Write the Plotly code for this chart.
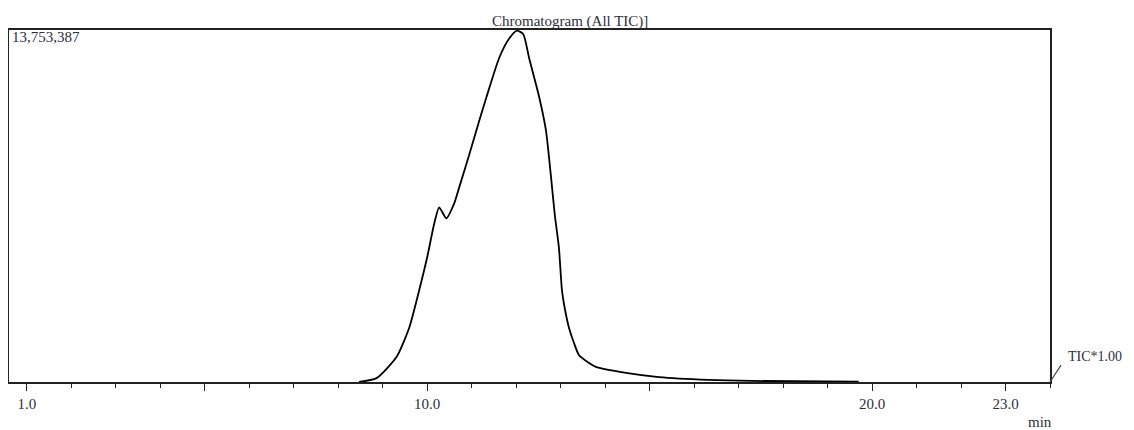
import plotly.graph_objects as go

# Retention time (min) and total ion current
time_min = [8.47, 8.86, 9.31, 9.60, 9.82, 10.00, 10.16, 10.27, 10.43, 10.61, 10.72,
            10.94, 11.17, 11.33, 11.62, 11.84, 12.02, 12.16, 12.29, 12.52, 12.67,
            12.78, 12.87, 12.96, 13.03, 13.10, 13.19, 13.30, 13.41, 13.64, 13.79,
            14.47, 15.21, 16.33, 17.30, 19.70]
tic_fraction = [0.0, 0.011, 0.071, 0.156, 0.261, 0.355, 0.452, 0.497, 0.466, 0.509, 0.554,
                0.645, 0.744, 0.810, 0.923, 0.977, 1.0, 0.99, 0.923, 0.810, 0.716,
                0.588, 0.474, 0.384, 0.261, 0.205, 0.153, 0.111, 0.077, 0.054, 0.043,
                0.026, 0.014, 0.006, 0.003, 0.001]
max_intensity = 13753387
intensity = [f * max_intensity for f in tic_fraction]

tick_values = [1, 5, 10, 15, 20, 23]
tick_labels = ["1.0", "", "10.0", "", "20.0", "23.0"]

FONT = "Liberation Serif"
TXT = "#2e2e3e"
FS = 15

fig = go.Figure()
fig.add_trace(go.Scatter(x=time_min, y=intensity, mode="lines",
                         line=dict(color="black", width=1.8, shape="spline", smoothing=0.6),
                         hoverinfo="x+y", showlegend=False))

fig.update_layout(
    width=1126, height=422,
    margin=dict(l=1, r=84, t=22, b=48),
    paper_bgcolor="white", plot_bgcolor="white",
    font=dict(family=FONT, size=FS, color=TXT),
    xaxis=dict(range=[0.6, 24.0], showgrid=False, zeroline=False,
               showline=True, linecolor="#222", linewidth=1.6, mirror=True,
               tickmode="array", tickvals=tick_values, ticktext=tick_labels,
               ticks="outside", ticklen=7, tickwidth=1.3, tickcolor="#222",
               minor=dict(dtick=1, tick0=0, ticks="outside", ticklen=4,
                          tickwidth=1.3, tickcolor="#222", showgrid=False),
               tickfont=dict(family=FONT, size=FS, color=TXT)),
    yaxis=dict(range=[0, max_intensity * 1.002], showgrid=False, zeroline=False,
               showline=True, linecolor="#222", linewidth=1.6, mirror=True,
               showticklabels=False, ticks=""),
    annotations=[
        dict(text="Chromatogram (All TIC)]", xref="paper", yref="paper",
             x=0.539, y=1.0, xanchor="center", yanchor="middle", yshift=9,
             showarrow=False, font=dict(family=FONT, size=FS, color=TXT)),
        dict(text="13,753,387", xref="paper", yref="paper", x=0, y=1,
             xanchor="left", yanchor="middle", xshift=1, yshift=-7,
             showarrow=False, font=dict(family=FONT, size=FS, color=TXT)),
        dict(text="TIC*1.00", xref="paper", yref="paper", x=1.0, y=0.0,
             xanchor="left", yanchor="middle", xshift=16, yshift=26,
             showarrow=False, font=dict(family=FONT, size=14, color=TXT)),
        dict(text="min", xref="paper", yref="paper", x=0.990, y=0.0,
             xanchor="center", yanchor="middle", yshift=-40,
             showarrow=False, font=dict(family=FONT, size=FS, color=TXT)),
    ],
    shapes=[
        dict(type="line", xref="paper", yref="paper",
             x0=1.0, y0=0.0, x1=1.0106, y1=0.048,
             line=dict(color="#444", width=1.2)),
    ],
)

fig.write_html("out.html")
